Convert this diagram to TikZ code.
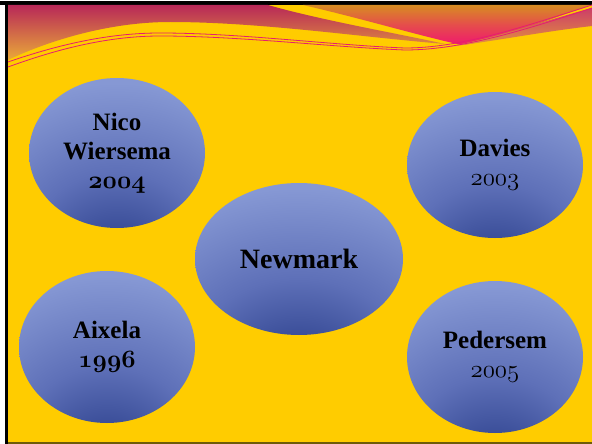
\documentclass[tikz,border=0pt]{standalone}
\usepackage{fontspec}
\setmainfont{Liberation Serif}
\usepackage{tikz}
\usetikzlibrary{shapes.geometric}

\definecolor{bgyellow}{RGB}{255,204,0}
\definecolor{bandmaroon}{RGB}{184,40,88}
\definecolor{bandorange}{RGB}{234,170,56}
\definecolor{tiporange}{RGB}{216,140,34}
\definecolor{tippink}{RGB}{240,24,110}
\definecolor{lowpink}{RGB}{204,62,104}
\definecolor{loworange}{RGB}{228,152,58}
\definecolor{wavepink}{RGB}{230,30,110}
\definecolor{edgeolive}{RGB}{110,92,10}
\definecolor{bublight}{RGB}{134,152,212}
\definecolor{bubmid}{RGB}{94,112,184}
\definecolor{bubdark}{RGB}{46,66,142}

\pgfdeclareradialshading{ballshade}{\pgfpoint{0bp}{-42bp}}{%
  color(0bp)=(bubdark); color(7bp)=(bubdark); color(25bp)=(bubmid);
  color(46bp)=(bublight); color(100bp)=(bublight)}

\newcommand{\yrbold}[1]{{\usefont{OML}{cmm}{b}{it}#1}}
\newcommand{\yrthin}[1]{{\usefont{OML}{cmm}{m}{it}#1}}

\begin{document}
\begin{tikzpicture}[x=1pt,y=-1pt]
\tikzstyle{every node}+=[inner sep=0pt]
\tikzstyle{bubble}=[ellipse, shading=ballshade, text=black, align=center,
  font=\fontsize{25}{29}\selectfont\bfseries]
\useasboundingbox (0,0) rectangle (592,444);
\fill [white] (0,0) rectangle (592,444);
\fill [bgyellow] (8,5) rectangle (592,442);
\fill [black] (0,1) rectangle (592,5);
\fill [black] (5,1) rectangle (8,444);
\fill [edgeolive] (8,442) rectangle (592,444);
\shade [top color=bandmaroon, bottom color=bandorange] (8,5) -- (268,5)
  .. controls (320,20) and (400,34) .. (445,44)
  .. controls (360,37) and (260,22) .. (170,22)
  .. controls (110,22) and (50,40) .. (8,60) -- cycle;
\shade [top color=tiporange, bottom color=tippink, middle color=tiporange!45!tippink] (303,5) -- (592,5)
  .. controls (540,22) and (500,40) .. (462,45)
  .. controls (420,36) and (360,18) .. (303,5) -- cycle;
\shade [top color=lowpink, bottom color=loworange] (440,48)
  .. controls (490,40) and (540,22) .. (592,8) -- (592,26)
  .. controls (540,32) and (490,42) .. (440,48) -- cycle;
\draw [wavepink, line width=0.8pt] (8,62) .. controls (60,44) and (110,33) .. (160,33)
  .. controls (240,33) and (330,45) .. (405,48)
  .. controls (460,48) and (520,28) .. (592,5);
\draw [wavepink, line width=0.8pt] (8,67) .. controls (60,48) and (110,36) .. (160,36)
  .. controls (240,36) and (330,47) .. (405,50)
  .. controls (460,50) and (522,31) .. (592,8);
\node (nico) [bubble, minimum width=176pt, minimum height=150pt] at (117,153)
  {Nico\\Wiersema\\\yrbold{2004}};
\node (davies) [bubble, minimum width=176pt, minimum height=146pt] at (495,165)
  {Davies\\\yrthin{2003}};
\node (newmark) [bubble, minimum width=208pt, minimum height=152pt,
  font=\fontsize{28}{32}\selectfont\bfseries] at (299,259) {Newmark};
\node (aixela) [bubble, minimum width=176pt, minimum height=152pt] at (107,347)
  {Aixela\\\yrbold{1996}};
\node (pedersem) [bubble, minimum width=176pt, minimum height=152pt] at (495,357)
  {Pedersem\\\yrthin{2005}};
\end{tikzpicture}
\end{document}
